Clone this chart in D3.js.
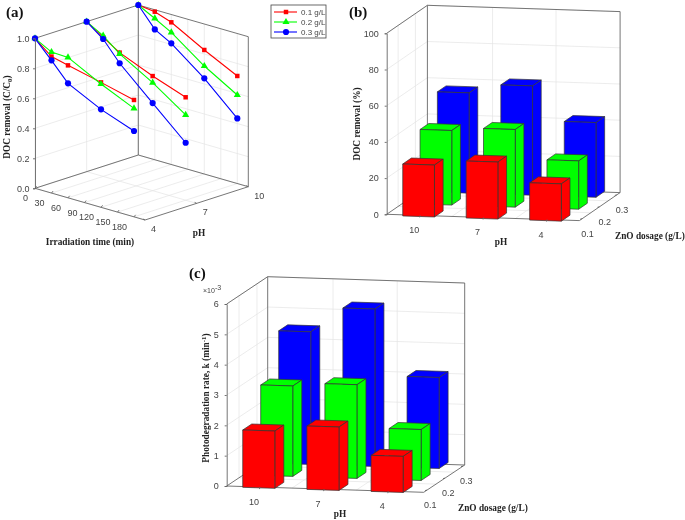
<!DOCTYPE html>
<html lang="en">
<head>
<meta charset="UTF-8">
<title>ZnO photodegradation</title>
<script src="https://d3js.org/d3.v7.min.js"></script>
<style>
    html, body { margin: 0; background: #fff; }
    svg { display: block; filter: blur(0.4px); }
    .tick-label { font: 9px "Liberation Sans", sans-serif; fill: #444; }
    .title { font: bold 9.3px "Liberation Serif", serif; fill: #222; }
    .panel { font: bold 15px "Liberation Serif", serif; fill: #111; }
    .grid { stroke: #e4e4e4; stroke-width: 0.7; fill: none; }
    .box { stroke: #666; stroke-width: 0.9; fill: none; }
</style>
</head>
<body>
<script>
    // panel (a): C/C0 against time
    const sampleTimes = [0, 30, 60, 120, 180];
    const timeTicks = [0, 30, 60, 90, 120, 150, 180];
    const phTicks = [4, 7, 10];
    const dosageLabels = ["0.1 g/L", "0.2 g/L", "0.3 g/L"];
    const dosageTicks = ["0.1", "0.2", "0.3"];
    const dosageColors = ["#ff0000", "#00ff00", "#0000ff"];

    const decayPh4 = [
        [1, 0.91, 0.883, 0.833, 0.779],
        [1, 0.94, 0.936, 0.822, 0.723],
        [1, 0.885, 0.763, 0.653, 0.572]
    ];
    const decayPh7 = [
        [1, 0.927, 0.857, 0.764, 0.686],
        [1, 0.938, 0.848, 0.72, 0.568],
        [1, 0.916, 0.786, 0.584, 0.383]
    ];
    const decayPh10 = [
        [1, 0.987, 0.948, 0.827, 0.717],
        [1, 0.942, 0.881, 0.72, 0.59],
        [1, 0.869, 0.808, 0.638, 0.434]
    ];

    // panels (b) and (c): one row per dosage, columns pH 10, 7, 4
    const barPh = ["10", "7", "4"];
    const docRemoval = [
        [28.7, 31.5, 20.6],
        [41.2, 42.9, 26.7],
        [55.4, 60.4, 41.3]
    ];
    const rateK = [
        [1.89, 2.09, 1.19],
        [2.98, 3.09, 1.68],
        [4.37, 5.19, 3.0]
    ];

    const svg = d3.select("body").append("svg").attr("width", 685).attr("height", 520);
    const line2 = d3.line();

    // builds a screen projection out of three 0..1 scales
    function projector(origin, ex, ey, height, sx, sy, sz) {
        return (a, b, c) => [
            origin[0] + ex[0] * sx(a) + ey[0] * sy(b),
            origin[1] + ex[1] * sx(a) + ey[1] * sy(b) - height * sz(c)
        ];
    }

    function seg(g, cls, p, q) {
        g.append("path").attr("class", cls).attr("d", line2([p, q]));
    }

    function label(cls, x, y, txt, anchor) {
        return svg.append("text").attr("class", cls).attr("x", x).attr("y", y)
            .attr("text-anchor", anchor || "start").text(txt);
    }

    // walls, floor, outline
    function drawFrame(g, p, dx, dy, dz, xt, yt, zt) {
        zt.forEach(z => {
            seg(g, "grid", p(dx[0], dy[0], z), p(dx[0], dy[1], z));
            seg(g, "grid", p(dx[0], dy[1], z), p(dx[1], dy[1], z));
        });
        yt.forEach(y => {
            seg(g, "grid", p(dx[0], y, dz[0]), p(dx[0], y, dz[1]));
            seg(g, "grid", p(dx[0], y, dz[0]), p(dx[1], y, dz[0]));
        });
        xt.forEach(x => {
            seg(g, "grid", p(x, dy[1], dz[0]), p(x, dy[1], dz[1]));
            seg(g, "grid", p(x, dy[0], dz[0]), p(x, dy[1], dz[0]));
        });
        const ring = [[dx[0], dy[0]], [dx[1], dy[0]], [dx[1], dy[1]], [dx[0], dy[1]], [dx[0], dy[0]]];
        g.append("path").attr("class", "box").attr("d", line2(ring.map(r => p(r[0], r[1], dz[0]))));
        g.append("path").attr("class", "box").attr("d", line2([
            p(dx[0], dy[0], dz[1]), p(dx[0], dy[1], dz[1]), p(dx[1], dy[1], dz[1])
        ]));
        seg(g, "box", p(dx[0], dy[1], dz[0]), p(dx[0], dy[1], dz[1]));
        seg(g, "box", p(dx[1], dy[1], dz[0]), p(dx[1], dy[1], dz[1]));
    }

    function zAxis(x, top, bottom, domain, ticks, fmt, pad) {
        const z = d3.scaleLinear().domain(domain).range([bottom, top]);
        const ax = svg.append("g").attr("transform", `translate(${x},0)`)
            .call(d3.axisLeft(z).tickValues(ticks).tickFormat(fmt).tickSize(2).tickPadding(pad));
        ax.selectAll("path,line").attr("stroke", "#666").attr("stroke-width", 0.9);
        ax.selectAll("text").attr("class", "tick-label").attr("fill", null);
        ax.attr("font-family", null).attr("font-size", null);
    }

    // ---------- panel (a)
    const aT = d3.scaleLinear().domain([0, 200]).range([0, 1]);
    const aP = d3.scaleLinear().domain([4, 10]).range([0, 1]);
    const aZ = d3.scaleLinear().domain([0, 1]).range([0, 1]);
    const pa = projector([35, 188.3], [110, 31.7], [103.3, -33.3], 150, aT, aP, aZ);
    const ga = svg.append("g");
    drawFrame(ga, pa, [0, 200], [4, 10], [0, 1], timeTicks, phTicks, [0.2, 0.4, 0.6, 0.8]);
    zAxis(35, 38.3, 188.3, [0, 1], [0, 0.2, 0.4, 0.6, 0.8, 1], d3.format(".1f"), 3.5);

    const markers = [d3.symbolSquare, d3.symbolTriangle, d3.symbolCircle];
    const markerSizes = [20, 22, 30];

    [[10, decayPh10], [7, decayPh7], [4, decayPh4]].forEach(([ph, rows]) => {
        rows.forEach((vals, i) => {
            const pts = vals.map((v, j) => pa(sampleTimes[j], ph, v));
            ga.append("path").attr("d", line2(pts)).attr("fill", "none")
                .attr("stroke", dosageColors[i]).attr("stroke-width", 1.1);
            pts.forEach(pt => {
                ga.append("path").attr("transform", `translate(${pt})`)
                    .attr("d", d3.symbol().type(markers[i]).size(markerSizes[i])())
                    .attr("fill", dosageColors[i]);
            });
        });
    });

    timeTicks.forEach(t => {
        const q = pa(t, 4, 0);
        seg(ga, "box", q, [q[0] + 1.6, q[1] - 2]);
        label("tick-label", q[0] - 7, q[1] + 13, t, "end");
    });
    phTicks.forEach(ph => {
        const q = pa(200, ph, 0);
        seg(ga, "box", q, [q[0] - 2, q[1] - 1]);
        label("tick-label", q[0] + 6, q[1] + 12, ph);
    });
    label("title", 90, 245, "Irradiation time (min)", "middle");
    label("title", 199, 236, "pH", "middle");
    const aTitle = svg.append("text").attr("class", "title")
        .attr("transform", "translate(10,117) rotate(-90)").attr("text-anchor", "middle");
    aTitle.append("tspan").text("DOC removal (C/C");
    aTitle.append("tspan").attr("dy", 2).style("font-size", "7px").text("0");
    aTitle.append("tspan").attr("dy", -2).text(")");
    label("panel", 6, 17, "(a)");

    // legend
    const lg = svg.append("g");
    lg.append("rect").attr("x", 271).attr("y", 5).attr("width", 55).attr("height", 33)
        .attr("fill", "#fff").attr("stroke", "#444").attr("stroke-width", 0.8);
    dosageLabels.forEach((d, i) => {
        const y = 12 + i * 10;
        lg.append("line").attr("x1", 274).attr("x2", 297).attr("y1", y).attr("y2", y)
            .attr("stroke", dosageColors[i]).attr("stroke-width", 1.1);
        lg.append("path").attr("transform", `translate(286,${y})`)
            .attr("d", d3.symbol().type(markers[i]).size(markerSizes[i])())
            .attr("fill", dosageColors[i]);
        lg.append("text").attr("class", "tick-label").attr("x", 301).attr("y", y + 3)
            .style("font-size", "8px").text(d);
    });

    // ---------- bar panels
    function barPanel(values, cfg) {
        const sx = d3.scaleLinear().domain(cfg.xDom).range([0, 1]);
        const sy = d3.scaleLinear().domain(cfg.yDom).range([0, 1]);
        const sz = d3.scaleLinear().domain(cfg.zDom).range([0, 1]);
        const p = projector(cfg.origin, cfg.ex, cfg.ey, cfg.height, sx, sy, sz);
        const g = svg.append("g");
        drawFrame(g, p, cfg.xDom, cfg.yDom, cfg.zDom, [0.5, 1.5], [0.5, 1.5], cfg.zGrid);
        zAxis(cfg.origin[0], cfg.origin[1] - cfg.height, cfg.origin[1], cfg.zDom, cfg.zTicks, d3.format("d"), 6);

        const w = 0.25;
        d3.range(2, -1, -1).forEach(r => {
            barPh.forEach((_, c) => {
                const v = values[r][c];
                const faces = [
                    [p(c - w, r - w, v), p(c - w, r + w, v), p(c + w, r + w, v), p(c + w, r - w, v)],
                    [p(c + w, r - w, 0), p(c + w, r + w, 0), p(c + w, r + w, v), p(c + w, r - w, v)],
                    [p(c - w, r - w, 0), p(c + w, r - w, 0), p(c + w, r - w, v), p(c - w, r - w, v)]
                ];
                faces.forEach(f => {
                    g.append("path").attr("d", line2(f) + "Z")
                        .attr("fill", dosageColors[r])
                        .attr("stroke", "#333").attr("stroke-width", 0.7);
                });
            });
        });

        barPh.forEach((ph, c) => {
            const q = p(c, cfg.yDom[0], 0);
            seg(g, "box", q, [q[0] - 0.5, q[1] + 2]);
            label("tick-label", q[0] - 6, q[1] + 18, ph, "middle");
        });
        dosageTicks.forEach((d, r) => {
            const q = p(cfg.xDom[1], r, 0);
            seg(g, "box", q, [q[0] - 2, q[1] + 0.5]);
            label("tick-label", q[0] + cfg.dosageDx, q[1] + 18, d);
        });
    }

    barPanel(docRemoval, {
        origin: [386.7, 214.3], ex: [192.7, 6.3], ey: [40.7, -28], height: 181,
        xDom: [-0.5275, 2.51], yDom: [-0.16, 2.19], zDom: [0, 100],
        zTicks: [0, 20, 40, 60, 80, 100], zGrid: [20, 40, 60, 80, 100], dosageDx: -1
    });
    label("panel", 349, 17, "(b)");
    label("title", 501, 245, "pH", "middle");
    label("title", 615, 239, "ZnO dosage (g/L)");
    svg.append("text").attr("class", "title").attr("transform", "translate(360,124) rotate(-90)")
        .attr("text-anchor", "middle").text("DOC removal (%)");

    barPanel(rateK, {
        origin: [226.7, 486], ex: [197, 6.3], ey: [41, -27.3], height: 182,
        xDom: [-0.518, 2.552], yDom: [-0.185, 2.095], zDom: [0, 6],
        zTicks: [0, 1, 2, 3, 4, 5, 6], zGrid: [1, 2, 3, 4, 5, 6], dosageDx: -3
    });
    label("panel", 189, 278, "(c)");
    label("title", 340, 517, "pH", "middle");
    label("title", 458, 511, "ZnO dosage (g/L)");
    const exp = svg.append("text").attr("class", "tick-label").attr("x", 203).attr("y", 293);
    exp.append("tspan").style("font-size", "7px").text("×10");
    exp.append("tspan").attr("dy", -3).style("font-size", "7px").text("-3");
    const cTitle = svg.append("text").attr("class", "title")
        .attr("transform", "translate(209,398) rotate(-90)").attr("text-anchor", "middle");
    cTitle.append("tspan").text("Photodegradation rate, k (min");
    cTitle.append("tspan").attr("dy", -3).style("font-size", "7px").text("-1");
    cTitle.append("tspan").attr("dy", 3).text(")");
</script>
</body>
</html>
